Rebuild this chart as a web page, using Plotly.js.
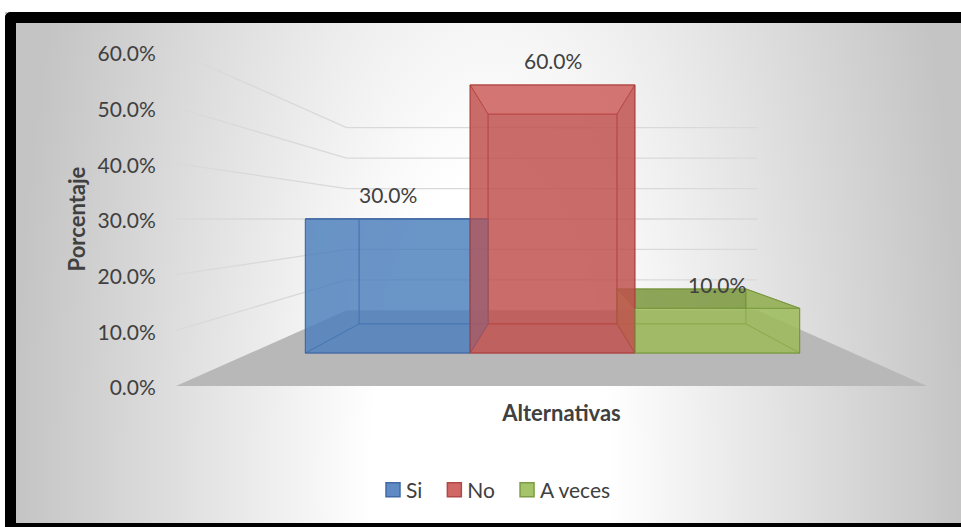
<!DOCTYPE html>
<html>
<head>
<meta charset="utf-8">
<script src="https://cdn.plot.ly/plotly-3.0.1.min.js"></script>
<style>
html,body{margin:0;padding:0;background:#c6c6c6;width:961px;height:527px;overflow:hidden;}
#padTop{position:absolute;left:0;top:0;width:2000px;height:12px;background:#fff;}
#padLeft{position:absolute;left:0;top:0;width:5px;height:2000px;background:#fff;}
#frame{position:absolute;left:5px;top:12px;width:956px;height:515px;box-sizing:border-box;
  border-left:11px solid #000;border-top:11px solid #000;border-bottom:4px solid #000;border-right:none;border-radius:6px 0 0 0;
  background:radial-gradient(475px 1219px at 474px 457px, #ffffff 0%, #ffffff 25%, #c4c4c4 100%);}
#chart{position:absolute;left:0;top:0;width:961px;height:527px;}
.legend g.traces{opacity:1 !important;}
</style>
</head>
<body>
<div id="padTop"></div>
<div id="padLeft"></div>
<div id="frame"></div>
<div id="chart"></div>
<script>
// ---- data ----
const categories = ['Si', 'No', 'A veces'];
const values = [0.30, 0.60, 0.10];
const tickValues = [0, 0.1, 0.2, 0.3, 0.4, 0.5, 0.6];
const xTitle = 'Alternativas';
const yTitle = 'Porcentaje';

// ---- styles ----
const faceColors = ['rgba(79,129,189,0.6)', 'rgba(192,80,77,0.6)', 'rgba(155,187,89,0.6)'];
const topColors = ['rgba(79,129,189,0.6)', 'rgba(235,125,122,0.6)', 'rgba(112,140,52,0.65)'];
const edgeColors = ['rgba(60,100,160,0.8)', 'rgba(170,60,58,0.8)', 'rgba(115,145,55,0.8)'];
const legendColors = ['#5f8ac4', '#d06866', '#a5c46a'];
const legendEdges = ['#3f6aa6', '#b0484a', '#7d9c45'];
const textColor = '#404040';
const FONT = 'Lato, "Open Sans", sans-serif';

// perspective geometry (depth units, eye height in value units)
const eye = {x: (categories.length - 1) / 2, y: 0.30};
const zBarFront = 0.246, zBarBack = 0.592, zWall = 0.828;
const floorLeft = -0.834, floorRight = 2.824;
function proj(X, Y, Z) {
  const s = 1 / (1 + Z);
  return [eye.x + (X - eye.x) * s, eye.y + (Y - eye.y) * s];
}

// pixel layout
const PXX = 205.3, PXY = 556.7;       // px per data unit
const plotLeft = 176, plotRight = 947, plotTop = 41, plotBottom = 397, zeroPx = 386;
const xRange = [floorLeft, floorLeft + (plotRight - plotLeft) / PXX];
const yRange = [-(plotBottom - zeroPx) / PXY, (zeroPx - plotTop) / PXY];

const traces = [];
function poly(pts3, fill, line, lw) {
  const xs = [], ys = [];
  pts3.concat([pts3[0]]).forEach(p => { const q = proj(p[0], p[1], p[2]); xs.push(q[0]); ys.push(q[1]); });
  traces.push({type: 'scatter', mode: lw ? 'lines' : 'none', x: xs, y: ys, fill: 'toself', fillcolor: fill,
    line: {color: line || 'rgba(0,0,0,0)', width: lw || 0}, hoverinfo: 'skip', showlegend: false});
}

// floor
poly([[floorLeft, 0, 0], [floorLeft, 0, zWall], [floorRight, 0, zWall], [floorRight, 0, 0]], '#b8b8b8', null, 0);

// gridlines (side wall + back wall)
(function () {
  const xs = [], ys = [];
  tickValues.forEach(v => {
    if (v === 0) return;
    [[floorLeft, v, 0], [floorLeft, v, zWall], [floorRight, v, zWall]].forEach(p => {
      const q = proj(p[0], p[1], p[2]); xs.push(q[0]); ys.push(q[1]);
    });
    xs.push(null); ys.push(null);
  });
  traces.push({type: 'scatter', mode: 'lines', x: xs, y: ys, line: {color: '#d9d9d9', width: 1.3},
    hoverinfo: 'skip', showlegend: false, connectgaps: false});
})();

// bars as translucent boxes
function faces(i) {
  const X0 = i - 0.5, X1 = i + 0.5, v = values[i], f = zBarFront, b = zBarBack;
  return {
    back:   [[X0, 0, b], [X1, 0, b], [X1, v, b], [X0, v, b]],
    bottom: [[X0, 0, f], [X1, 0, f], [X1, 0, b], [X0, 0, b]],
    top:    [[X0, v, f], [X1, v, f], [X1, v, b], [X0, v, b]],
    left:   [[X0, 0, f], [X0, 0, b], [X0, v, b], [X0, v, f]],
    right:  [[X1, 0, f], [X1, 0, b], [X1, v, b], [X1, v, f]],
    front:  [[X0, 0, f], [X1, 0, f], [X1, v, f], [X0, v, f]]
  };
}
['back', 'bottom', 'top', 'left', 'right', 'front'].forEach(name => {
  categories.forEach((c, i) => {
    const fc = name === 'top' ? topColors[i] : faceColors[i];
    poly(faces(i)[name], fc, edgeColors[i], 1);
  });
});

// legend entries (legend only; the boxes above draw the bars)
categories.forEach((c, i) => {
  traces.push({type: 'bar', x: [i], y: [values[i]], name: c, visible: 'legendonly',
    marker: {color: legendColors[i], line: {color: legendEdges[i], width: 1.5}}});
});

// data labels
const annotations = values.map((v, i) => {
  const q = proj(i, v, zBarFront);
  return {x: q[0], y: q[1], xref: 'x', yref: 'y', text: (v * 100).toFixed(1) + '%', showarrow: false,
    yshift: 24, font: {family: FONT, size: 21, color: textColor}};
});

const layout = {
  width: 961, height: 527,
  margin: {l: plotLeft, r: 961 - plotRight, t: plotTop, b: 527 - plotBottom, pad: 0},
  paper_bgcolor: 'rgba(0,0,0,0)', plot_bgcolor: 'rgba(0,0,0,0)',
  font: {family: FONT, size: 21, color: textColor},
  xaxis: {type: 'linear', range: xRange, showgrid: false, zeroline: false, showline: false, showticklabels: false, ticks: '',
    fixedrange: true,
    title: {text: xTitle, standoff: 8, font: {family: FONT, size: 22, color: textColor, weight: 'bold'}}},
  yaxis: {type: 'linear', range: yRange, showgrid: false, zeroline: false, showline: false, tickvals: tickValues, tickformat: '.1%',
    ticks: 'outside', ticklen: 15, tickcolor: 'rgba(0,0,0,0)', fixedrange: true, ticklabelshift: 2,
    tickfont: {family: FONT, size: 21, color: textColor},
    title: {text: yTitle, standoff: 5, font: {family: FONT, size: 22, color: textColor, weight: 'bold'}}},
  showlegend: true,
  legend: {orientation: 'h', x: (491 - plotLeft) / (plotRight - plotLeft), xanchor: 'center',
    y: -(490 - plotBottom) / (plotBottom - plotTop), yanchor: 'middle',
    bgcolor: 'rgba(255,255,255,0.45)', font: {family: FONT, size: 21, color: textColor}, traceorder: 'normal',
    itemclick: false, itemdoubleclick: false},
  annotations: annotations,
  barmode: 'overlay'
};

Plotly.newPlot('chart', traces, layout, {displayModeBar: false, staticPlot: true}).then(gd => {
  // larger square legend swatches placed close to their text
  gd.querySelectorAll('.legend .legendpoints path').forEach(p => p.setAttribute('d', 'M14,7H0V-7H14Z'));
});
</script>
</body>
</html>
